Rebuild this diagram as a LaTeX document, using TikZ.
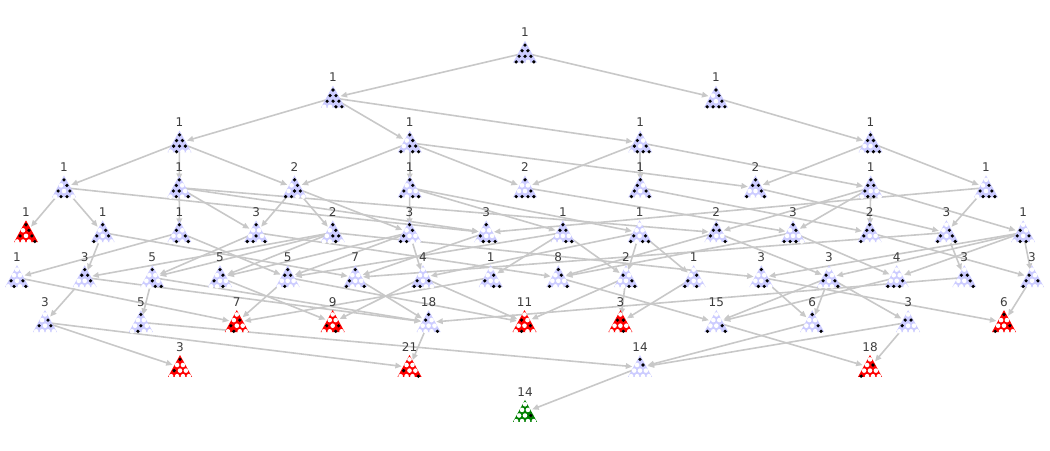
\documentclass[tikz,border=0pt]{standalone}
\usepackage{fontspec}
\setmainfont{DejaVu Sans}
\usetikzlibrary{arrows.meta}
\definecolor{lav}{RGB}{204,204,255}
\definecolor{pegred}{RGB}{255,0,0}
\definecolor{peggreen}{RGB}{0,128,0}
\definecolor{edgegray}{RGB}{200,200,200}
\definecolor{labgray}{RGB}{60,60,60}
\newcommand\pegicon[4]{%
  \begin{scope}[shift={(#1.center)}]
    \fill[#2] (0,-12.3) -- (-12,9.6) -- (12,9.6) -- cycle;
    \foreach \f [count=\k] in {#3} {%
      \pgfmathtruncatemacro\rr{(\k>1)+(\k>3)+(\k>6)}%
      \pgfmathsetmacro\xx{(\k-1-\rr*(\rr+1)/2-\rr/2)*5.9}%
      \pgfmathsetmacro\yy{-7.9+\rr*5.6}%
      \ifnum\f=1 \fill[black] (\xx,\yy) circle[radius=1.8pt];\else\fill[white] (\xx,\yy) circle[radius=2.3pt];\fi
    }
  \end{scope}
  \node[lab] (l#1) at ([yshift=20.5pt]#1.center) {#4};
}
\begin{document}
\begin{tikzpicture}[x=1pt,y=-1pt,
  v/.style={circle,minimum size=15pt,inner sep=0pt},
  edge/.style={draw=edgegray,line width=1.6pt,-{Triangle[length=6.5pt,width=5.5pt]}},
  lab/.style={font=\fontsize{12}{14}\selectfont,text=labgray,inner sep=0pt}]
\useasboundingbox (0,0) rectangle (1050,450);
% vertices
\node[v] (a525) at (525,53) {};
\node[v] (b333) at (333,97.9) {};
\node[v] (b716) at (716,97.9) {};
\node[v] (c180) at (179.5,142.8) {};
\node[v] (c409) at (409.75,142.8) {};
\node[v] (c640) at (640.25,142.8) {};
\node[v] (c870) at (870.5,142.8) {};
\node[v] (d64) at (64,187.7) {};
\node[v] (d180) at (179.25,187.7) {};
\node[v] (d294) at (294.5,187.7) {};
\node[v] (d409) at (409.75,187.7) {};
\node[v] (d525) at (525,187.7) {};
\node[v] (d640) at (640.25,187.7) {};
\node[v] (d755) at (755.5,187.7) {};
\node[v] (d870) at (870.75,187.7) {};
\node[v] (d986) at (986,187.7) {};
\node[v] (e26) at (26,232.6) {};
\node[v] (e102) at (102.7,232.6) {};
\node[v] (e180) at (179.4,232.6) {};
\node[v] (e256) at (256.1,232.6) {};
\node[v] (e333) at (332.8,232.6) {};
\node[v] (e409) at (409.5,232.6) {};
\node[v] (e486) at (486.2,232.6) {};
\node[v] (e563) at (562.9,232.6) {};
\node[v] (e640) at (639.6,232.6) {};
\node[v] (e716) at (716.3,232.6) {};
\node[v] (e793) at (793,232.6) {};
\node[v] (e870) at (869.7,232.6) {};
\node[v] (e947) at (946.4,232.6) {};
\node[v] (e1023) at (1023.1,232.6) {};
\node[v] (f17) at (17,277.5) {};
\node[v] (f84) at (84.7,277.5) {};
\node[v] (f152) at (152.3,277.5) {};
\node[v] (f220) at (220,277.5) {};
\node[v] (f288) at (287.7,277.5) {};
\node[v] (f355) at (355.3,277.5) {};
\node[v] (f424) at (423,277.5) {};
\node[v] (f491) at (490.7,277.5) {};
\node[v] (f558) at (558.3,277.5) {};
\node[v] (f626) at (626,277.5) {};
\node[v] (f694) at (693.7,277.5) {};
\node[v] (f762) at (761.3,277.5) {};
\node[v] (f829) at (829,277.5) {};
\node[v] (f897) at (896.7,277.5) {};
\node[v] (f965) at (964.3,277.5) {};
\node[v] (f1032) at (1032,277.5) {};
\node[v] (g45) at (45,322.4) {};
\node[v] (g141) at (140.9,322.4) {};
\node[v] (g237) at (236.8,322.4) {};
\node[v] (g333) at (332.7,322.4) {};
\node[v] (g429) at (428.6,322.4) {};
\node[v] (g525) at (524.5,322.4) {};
\node[v] (g620) at (620.4,322.4) {};
\node[v] (g716) at (716.3,322.4) {};
\node[v] (g812) at (812.2,322.4) {};
\node[v] (g908) at (908.1,322.4) {};
\node[v] (g1004) at (1004,322.4) {};
\node[v] (h180) at (180,367.3) {};
\node[v] (h409) at (409.5,367.3) {};
\node[v] (h640) at (640,367.3) {};
\node[v] (h870) at (870,367.3) {};
\node[v] (i525) at (525,412.2) {};
% edges
\foreach \s/\t in {a525/b333,a525/b716,
 b333/c180,b333/c409,b333/c640,b716/c870,
 c180/d294,c180/d64,c180/d180,
 c409/d755,c409/d409,c409/d525,c409/d294,
 c640/d870,c640/d525,c640/d640,
 c870/d986,c870/d755,
 d64/e102,d64/e26,d64/e486,
 d180/e180,d180/e256,d180/e716,d180/e486,
 d294/e409,d294/e333,d294/e256,
 d409/e409,d409/e563,d409/e640,
 d525/e793,d640/e870,d755/e947,
 d870/e870,d870/e716,d870/e793,d870/e1023,
 d986/e947,d986/e486,
 e102/f84,e102/f355,e180/f17,e180/f288,e256/f152,e256/f558,
 e333/f220,e333/f762,e333/f152,e333/f84,
 e409/f220,e409/f288,e409/f424,e486/f355,
 e563/f288,e563/f491,e563/f626,
 e640/f424,e640/f626,e640/f694,
 e716/f558,e716/f829,e793/f558,e793/f897,e870/f1032,
 e947/f965,e947/f355,
 e1023/f1032,e1023/f829,e1023/f762,e1023/f897,
 f17/g237,f84/g45,f84/g429,f152/g141,f152/g429,f220/g333,
 f288/g237,f288/g525,f355/g429,f424/g333,f424/g525,f491/g237,
 f558/g716,f626/g525,f626/g620,f694/g620,f762/g1004,f762/g812,
 f829/g812,f829/g716,f829/g908,f897/g716,f965/g429,f1032/g1004,
 g45/h180,g45/h409,g141/h640,g429/h409,g716/h870,g812/h640,
 g908/h640,g908/h870,h640/i525}
 \draw[edge] (\s.center) -- (\t);
% icons
\pegicon{a525}{lav}{1,1,1,1,1,1,1,1,0,1}{1}
\pegicon{b333}{lav}{1,1,1,1,1,1,0,0,1,1}{1}
\pegicon{b716}{lav}{1,0,1,1,0,1,1,1,1,1}{1}
\pegicon{c180}{lav}{1,1,1,1,1,1,0,1,0,0}{1}
\pegicon{c409}{lav}{1,0,1,0,1,1,1,0,1,1}{1}
\pegicon{c640}{lav}{1,1,0,1,0,1,0,1,1,1}{1}
\pegicon{c870}{lav}{1,1,1,0,0,1,0,1,1,1}{1}
\pegicon{d64}{lav}{1,0,1,1,0,1,0,1,1,0}{1}
\pegicon{d180}{lav}{1,1,0,1,1,0,0,1,0,1}{1}
\pegicon{d294}{lav}{1,0,1,0,1,1,1,1,0,0}{2}
\pegicon{d409}{lav}{1,0,1,1,0,0,1,0,1,1}{1}
\pegicon{d525}{lav}{1,0,0,0,0,1,1,1,1,1}{2}
\pegicon{d640}{lav}{1,1,0,1,0,1,1,0,0,1}{1}
\pegicon{d755}{lav}{1,1,1,0,0,1,1,0,0,1}{2}
\pegicon{d870}{lav}{1,1,1,1,0,0,0,1,1,0}{1}
\pegicon{d986}{lav}{0,0,1,1,0,1,0,1,1,1}{1}
\pegicon{e26}{pegred}{1,0,1,1,0,1,0,0,0,1}{1}
\pegicon{e102}{lav}{1,0,1,1,0,1,1,0,0,0}{1}
\pegicon{e180}{lav}{1,1,0,0,0,1,0,1,0,1}{1}
\pegicon{e256}{lav}{1,0,0,0,1,0,1,1,0,1}{3}
\pegicon{e333}{lav}{1,0,1,0,1,1,0,0,1,0}{2}
\pegicon{e409}{lav}{1,0,1,1,0,0,1,1,0,0}{3}
\pegicon{e486}{lav}{1,0,0,1,0,0,0,1,1,1}{3}
\pegicon{e563}{lav}{1,1,1,0,0,0,0,0,1,1}{1}
\pegicon{e640}{lav}{0,0,0,1,0,1,1,0,1,1}{1}
\pegicon{e716}{lav}{1,1,1,1,0,0,0,0,0,1}{2}
\pegicon{e793}{lav}{1,0,1,0,0,0,1,1,1,0}{3}
\pegicon{e870}{lav}{1,1,1,1,0,0,1,0,0,0}{2}
\pegicon{e947}{lav}{0,0,1,1,0,1,1,0,0,1}{3}
\pegicon{e1023}{lav}{0,1,0,1,0,1,0,1,1,0}{1}
\pegicon{f17}{lav}{0,0,0,1,0,1,0,1,0,1}{1}
\pegicon{f84}{lav}{1,1,1,0,0,1,0,0,0,0}{3}
\pegicon{f152}{lav}{1,0,0,0,1,0,0,0,1,1}{5}
\pegicon{f220}{lav}{1,0,1,1,0,0,0,0,1,0}{5}
\pegicon{f288}{lav}{1,1,1,0,0,0,0,1,0,0}{5}
\pegicon{f355}{lav}{1,0,0,1,0,0,1,0,0,1}{7}
\pegicon{f424}{lav}{0,0,0,1,0,1,1,1,0,0}{4}
\pegicon{f491}{lav}{0,0,1,1,0,0,0,0,1,1}{1}
\pegicon{f558}{lav}{1,0,1,0,0,0,1,0,0,1}{8}
\pegicon{f626}{lav}{0,1,0,0,0,1,0,0,1,1}{2}
\pegicon{f694}{lav}{0,0,1,1,0,0,1,0,1,0}{1}
\pegicon{f762}{lav}{1,0,0,0,0,1,0,1,1,0}{3}
\pegicon{f829}{lav}{0,1,0,1,0,1,0,0,0,1}{3}
\pegicon{f897}{lav}{0,0,0,0,0,1,1,1,1,0}{4}
\pegicon{f965}{lav}{0,1,1,0,0,1,0,0,0,1}{3}
\pegicon{f1032}{lav}{0,1,0,1,0,1,1,0,0,0}{3}
\pegicon{g45}{lav}{0,0,1,1,0,1,0,0,0,0}{3}
\pegicon{g141}{lav}{1,0,0,0,1,0,0,1,0,0}{5}
\pegicon{g237}{pegred}{0,0,1,1,0,0,0,1,0,0}{7}
\pegicon{g333}{pegred}{0,0,0,1,0,1,0,0,1,0}{9}
\pegicon{g429}{lav}{1,1,0,0,0,0,0,0,0,1}{18}
\pegicon{g525}{pegred}{0,1,0,0,0,1,0,1,0,0}{11}
\pegicon{g620}{pegred}{0,1,1,0,0,0,0,0,1,0}{3}
\pegicon{g716}{lav}{0,0,0,0,0,1,1,0,0,1}{15}
\pegicon{g812}{lav}{1,0,0,0,0,1,0,0,0,1}{6}
\pegicon{g908}{lav}{0,1,1,1,0,0,0,0,0,0}{3}
\pegicon{g1004}{pegred}{1,0,0,0,0,1,1,0,0,0}{6}
\pegicon{h180}{pegred}{1,0,0,1,0,0,0,0,0,0}{3}
\pegicon{h409}{pegred}{0,0,0,1,0,0,0,0,0,1}{21}
\pegicon{h640}{lav}{1,0,1,0,0,0,0,0,0,0}{14}
\pegicon{h870}{pegred}{0,0,1,0,0,0,1,0,0,0}{18}
\pegicon{i525}{peggreen}{0,0,0,0,0,1,0,0,0,0}{14}
\end{tikzpicture}
\end{document}
